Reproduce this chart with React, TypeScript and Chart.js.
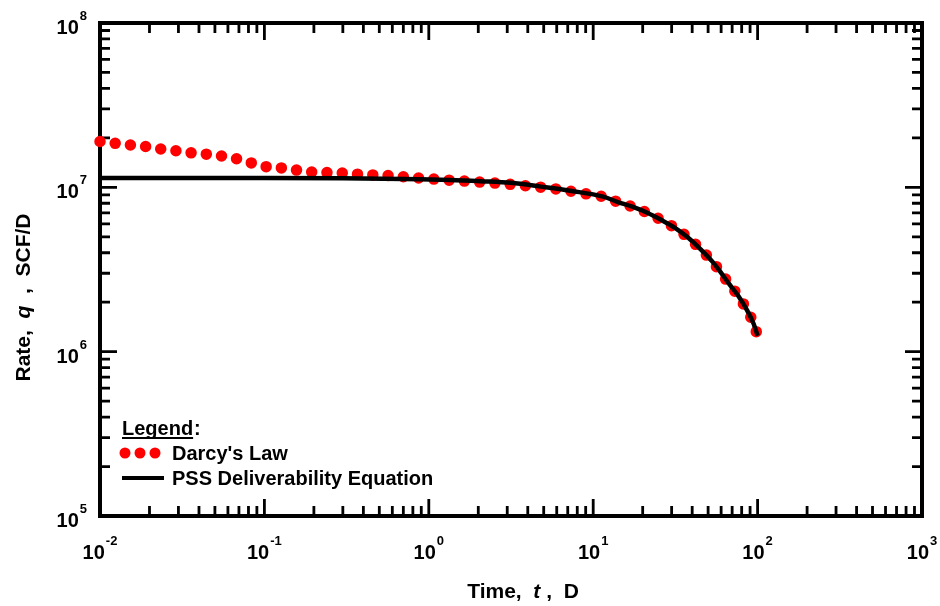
import React, { useEffect, useRef } from "react";
import { Chart, registerables } from "chart.js";

Chart.register(...registerables);

// ---- data ----
const darcyTime = [
  0.01, 0.0125, 0.0154, 0.019, 0.0235, 0.029, 0.036, 0.045, 0.055, 0.068,
  0.085, 0.105, 0.13, 0.16, 0.19, 0.24, 0.3, 0.38, 0.46, 0.57, 0.7, 0.87,
  1.1, 1.67, 2.56, 3.98, 6.0, 9.2, 11.5, 14.0, 17.3, 21.3, 26.0, 31.6, 37.4,
  44.9, 53.1, 59.4, 66.4, 76.4, 86.7, 94.3, 100,
];
const darcyRate = [
  1.9e7, 1.85e7, 1.81e7, 1.77e7, 1.71e7, 1.67e7, 1.62e7, 1.59e7, 1.55e7, 1.49e7,
  1.4e7, 1.33e7, 1.31e7, 1.27e7, 1.24e7, 1.23e7, 1.22e7, 1.2e7, 1.19e7, 1.18e7, 1.16e7, 1.14e7,
  1.12e7, 1.09e7, 1.06e7, 1.02e7, 9.77e6, 9.1e6, 8.77e6, 8.17e6, 7.62e6, 7.0e6, 6.32e6, 5.65e6, 4.98e6,
  4.21e6, 3.53e6, 3.06e6, 2.62e6, 2.18e6, 1.77e6, 1.49e6, 1.25e6,
];
const pssTime = [
  0.01, 0.03, 0.1, 0.3, 0.7, 1.34, 2.07, 3.17, 4.8, 7.4, 11.5, 14.0, 17.3,
  21.3, 26.0, 31.6, 37.4, 44.9, 53.1, 59.4, 66.4, 76.4, 86.7, 94.3, 100,
];
const pssRate = [
  1.14e7, 1.14e7, 1.14e7, 1.135e7, 1.125e7, 1.11e7, 1.09e7, 1.065e7, 1.01e7, 9.5e6, 8.77e6, 8.17e6, 7.62e6,
  7.0e6, 6.32e6, 5.65e6, 4.98e6, 4.21e6, 3.53e6, 3.06e6, 2.62e6, 2.18e6, 1.77e6, 1.49e6, 1.25e6,
];
const xTickExponents = [-2, -1, 0, 1, 2, 3];
const yTickExponents = [5, 6, 7, 8];
const seriesLabels = ["Darcy's Law", "PSS Deliverability Equation"];
const legendTitle = "Legend";
const xTitleParts = ["Time,  ", "t", " ,  D"];
const yTitleParts = ["Rate,  ", "q", "  ,  SCF/D"];

const FONT = "'Liberation Sans', Arial, Helvetica, sans-serif";

function drawParts(ctx: CanvasRenderingContext2D, parts: string[], cx: number, baseline: number, size: number) {
  const fonts = parts.map((_, i) => (i === 1 ? `italic bold ${size}px ${FONT}` : `bold ${size}px ${FONT}`));
  const widths = parts.map((p, i) => {
    ctx.font = fonts[i];
    return ctx.measureText(p).width;
  });
  const total = widths.reduce((s, w) => s + w, 0);
  let x = cx - total / 2;
  ctx.textAlign = "left";
  ctx.textBaseline = "alphabetic";
  parts.forEach((p, i) => {
    ctx.font = fonts[i];
    ctx.fillText(p, x, baseline);
    x += widths[i];
  });
}

const framePlugin = {
  id: "framePlugin",
  beforeDatasetsDraw(chart: any) {
    const { ctx, chartArea: a, scales } = chart;
    const xs = scales.x;
    const ys = scales.y;
    ctx.save();
    ctx.strokeStyle = "#000";
    ctx.lineWidth = 2.8;
    ctx.lineCap = "butt";
    ctx.beginPath();
    xTickExponents.forEach((k, idx) => {
      const last = idx === xTickExponents.length - 1;
      for (let m = 1; m <= (last ? 1 : 9); m++) {
        const px = xs.getPixelForValue(m * Math.pow(10, k));
        const len = m === 1 ? 17 : 10;
        ctx.moveTo(px, a.bottom);
        ctx.lineTo(px, a.bottom - len);
        ctx.moveTo(px, a.top);
        ctx.lineTo(px, a.top + len);
      }
    });
    yTickExponents.forEach((k, idx) => {
      const last = idx === yTickExponents.length - 1;
      for (let m = 1; m <= (last ? 1 : 9); m++) {
        const py = ys.getPixelForValue(m * Math.pow(10, k));
        const len = m === 1 ? 17 : 10;
        ctx.moveTo(a.left, py);
        ctx.lineTo(a.left + len, py);
        ctx.moveTo(a.right, py);
        ctx.lineTo(a.right - len, py);
      }
    });
    ctx.stroke();
    ctx.lineWidth = 4;
    ctx.strokeRect(a.left, a.top, a.right - a.left, a.bottom - a.top);
    ctx.restore();
  },
  afterDraw(chart: any) {
    const { ctx, chartArea: a, scales } = chart;
    const xs = scales.x;
    const ys = scales.y;
    ctx.save();
    ctx.fillStyle = "#000";
    ctx.textBaseline = "alphabetic";
    ctx.textAlign = "left";
    const baseFont = `bold 20px ${FONT}`;
    const expFont = `bold 13px ${FONT}`;
    // x tick labels
    xTickExponents.forEach((k) => {
      const px = xs.getPixelForValue(Math.pow(10, k));
      ctx.font = baseFont;
      const w10 = ctx.measureText("10").width;
      ctx.font = expFont;
      const we = ctx.measureText(String(k)).width;
      const total = w10 + 1 + we;
      const x0 = px - total / 2;
      ctx.font = baseFont;
      ctx.fillText("10", x0, a.bottom + 43);
      ctx.font = expFont;
      ctx.fillText(String(k), x0 + w10 + 1, a.bottom + 29);
    });
    // y tick labels
    yTickExponents.forEach((k) => {
      const py = ys.getPixelForValue(Math.pow(10, k));
      ctx.font = expFont;
      const we = ctx.measureText(String(k)).width;
      ctx.font = baseFont;
      const w10 = ctx.measureText("10").width;
      const right = a.left - 13;
      ctx.font = expFont;
      ctx.fillText(String(k), right - we, py - 3);
      ctx.font = baseFont;
      ctx.fillText("10", right - we - 1 - w10, py + 11);
    });
    // axis titles
    drawParts(ctx, xTitleParts, (a.left + a.right) / 2 + 12, a.bottom + 82, 21);
    ctx.save();
    ctx.translate(a.left - 70, (a.top + a.bottom) / 2 + 28);
    ctx.rotate(-Math.PI / 2);
    drawParts(ctx, yTitleParts, 0, 0, 21);
    ctx.restore();

    // legend
    const ds = chart.data.datasets;
    const lx = a.left + 22;
    ctx.font = `bold 20px ${FONT}`;
    const titleY = a.top + 412;
    ctx.fillText(legendTitle, lx, titleY);
    const tw = ctx.measureText(legendTitle).width;
    ctx.fillText(":", lx + tw + 1, titleY);
    ctx.fillRect(lx, titleY + 2, tw, 2);
    // row 1 - dotted red
    const r1 = a.top + 430;
    ctx.fillStyle = ds[0].borderColor;
    for (let i = 0; i < 3; i++) {
      ctx.beginPath();
      ctx.arc(lx + 3 + i * 15, r1, 5.5, 0, Math.PI * 2);
      ctx.fill();
    }
    ctx.fillStyle = "#000";
    ctx.fillText(ds[0].label, a.left + 72, r1 + 7);
    // row 2 - black line
    const r2 = a.top + 455;
    ctx.strokeStyle = ds[1].borderColor;
    ctx.lineWidth = 4;
    ctx.beginPath();
    ctx.moveTo(lx, r2);
    ctx.lineTo(lx + 42, r2);
    ctx.stroke();
    ctx.fillText(ds[1].label, a.left + 72, r2 + 7);
    ctx.restore();
  },
};

export default function App() {
  const canvasRef = useRef<HTMLCanvasElement | null>(null);

  useEffect(() => {
    document.body.style.margin = "0";
    const canvas = canvasRef.current;
    if (!canvas) return;
    const chart = new Chart(canvas, {
      type: "line",
      data: {
        datasets: [
          {
            label: seriesLabels[0],
            data: darcyTime.map((t, i) => ({ x: t, y: darcyRate[i] })),
            borderColor: "#ff0000",
            borderWidth: 11.5,
            borderDash: [0, 15.3],
            borderCapStyle: "round",
            borderJoinStyle: "round",
            pointRadius: 0,
            cubicInterpolationMode: "monotone",
            fill: false,
            clip: false as any,
            order: 2,
          },
          {
            label: seriesLabels[1],
            data: pssTime.map((t, i) => ({ x: t, y: pssRate[i] })),
            borderColor: "#000000",
            borderWidth: 4.5,
            pointRadius: 0,
            cubicInterpolationMode: "monotone",
            fill: false,
            clip: false as any,
            order: 1,
          },
        ],
      },
      options: {
        responsive: false,
        animation: false,
        devicePixelRatio: 1,
        layout: { padding: { left: 100, top: 23, right: 18, bottom: 90 } },
        scales: {
          x: { type: "logarithmic", min: 0.01, max: 1000, display: false },
          y: { type: "logarithmic", min: 1e5, max: 1e8, display: false },
        },
        plugins: {
          legend: { display: false },
          tooltip: { enabled: false },
          title: { display: false },
        },
      },
      plugins: [framePlugin],
    });
    return () => chart.destroy();
  }, []);

  return (
    <div style={{ width: 940, height: 606, background: "#fff" }}>
      <canvas ref={canvasRef} width={940} height={606} />
    </div>
  );
}
